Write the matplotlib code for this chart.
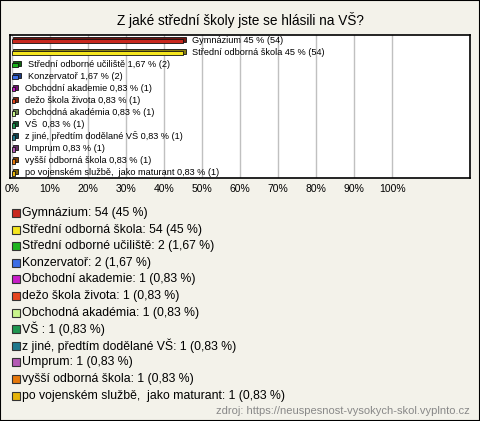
import matplotlib.pyplot as plt
from matplotlib.patches import Rectangle
import numpy as np

plt.rcParams['font.family'] = ['Liberation Sans', 'DejaVu Sans']

title = "Z jaké střední školy jste se hlásili na VŠ?"
names = ["Gymnázium", "Střední odborná škola", "Střední odborné učiliště",
         "Konzervatoř", "Obchodní akademie", "dežo škola života",
         "Obchodná akadémia", "VŠ ", "z jiné, předtím dodělané VŠ", "Umprum",
         "vyšší odborná škola", "po vojenském službě,  jako maturant"]
counts = [54, 54, 2, 2, 1, 1, 1, 1, 1, 1, 1, 1]
percents = [45, 45, 1.67, 1.67, 0.83, 0.83, 0.83, 0.83, 0.83, 0.83, 0.83, 0.83]
colors = ["#c8281e", "#f5e61e", "#1eb41e", "#3c6ee6", "#c81ec8", "#e6461e",
          "#c8f58c", "#1e9650", "#1e788c", "#b45ab4", "#e6780a", "#e6b40a"]
xticks = list(range(0, 101, 10))
source = "zdroj: https://neuspesnost-vysokych-skol.vyplnto.cz"

W, H = 480, 421
fig = plt.figure(figsize=(W / 100, H / 100), dpi=100, facecolor="#f3f2ea")
fig.add_artist(Rectangle((0, 0), 1, 1, transform=fig.transFigure,
                         fill=False, edgecolor="black", lw=1.5))

fig.text(0.5, 1 - 20 / H, title, ha="center", va="center", fontsize=9.8)

ax = fig.add_axes([10 / W, 1 - 178 / H, 460 / W, 143 / H])
ax.set_facecolor("white")
y = np.arange(len(names))


def fmt(v):
    return f"{v:g}".replace(".", ",")


def darker(c, f=0.55):
    r, g, b = [int(c[i:i + 2], 16) / 255 for i in (1, 3, 5)]
    return (r * f, g * f, b * f)


for i in range(len(names)):
    # 3D depth behind the bar
    ax.barh(y[i] - 0.1, percents[i] + 0.5, height=0.4, left=0.3,
            color=darker(colors[i]), edgecolor="#111111", lw=0.6, zorder=2)
    ax.barh(y[i] + 0.05, percents[i], height=0.4, color=colors[i],
            edgecolor="#111111", lw=0.6, zorder=3)
    ax.text(percents[i] + 2.5, y[i] - 0.02,
            f"{names[i]} {fmt(percents[i])} % ({counts[i]})",
            va="center", ha="left", fontsize=6.6, zorder=4)

ax.set_xlim(-0.5, 120.5)
ax.set_ylim(11.45, -0.45)
ax.set_yticks([])
ax.set_xticks(xticks)
ax.set_xticklabels([f"{t}%" for t in xticks], fontsize=7.5)
ax.tick_params(axis="x", length=0, pad=4)
ax.grid(axis="x", color="#c0c0c0", lw=1, zorder=0)
ax.set_axisbelow(True)
for s in ax.spines.values():
    s.set_linewidth(1.2)

# legend
for i in range(len(names)):
    yy = 213 + i * 16.6
    fig.add_artist(Rectangle((12 / W, 1 - (yy + 4) / H), 8 / W, 8 / H,
                             transform=fig.transFigure, facecolor=colors[i],
                             edgecolor="#333333", lw=0.8))
    fig.text(22 / W, 1 - yy / H,
             f"{names[i]}: {counts[i]} ({fmt(percents[i])} %)",
             ha="left", va="center", fontsize=8.8)

fig.text(470 / W, 1 - 411 / H, source, ha="right", va="center",
         fontsize=8, color="#888888")

fig.savefig("out.png", dpi=100, facecolor=fig.get_facecolor())
